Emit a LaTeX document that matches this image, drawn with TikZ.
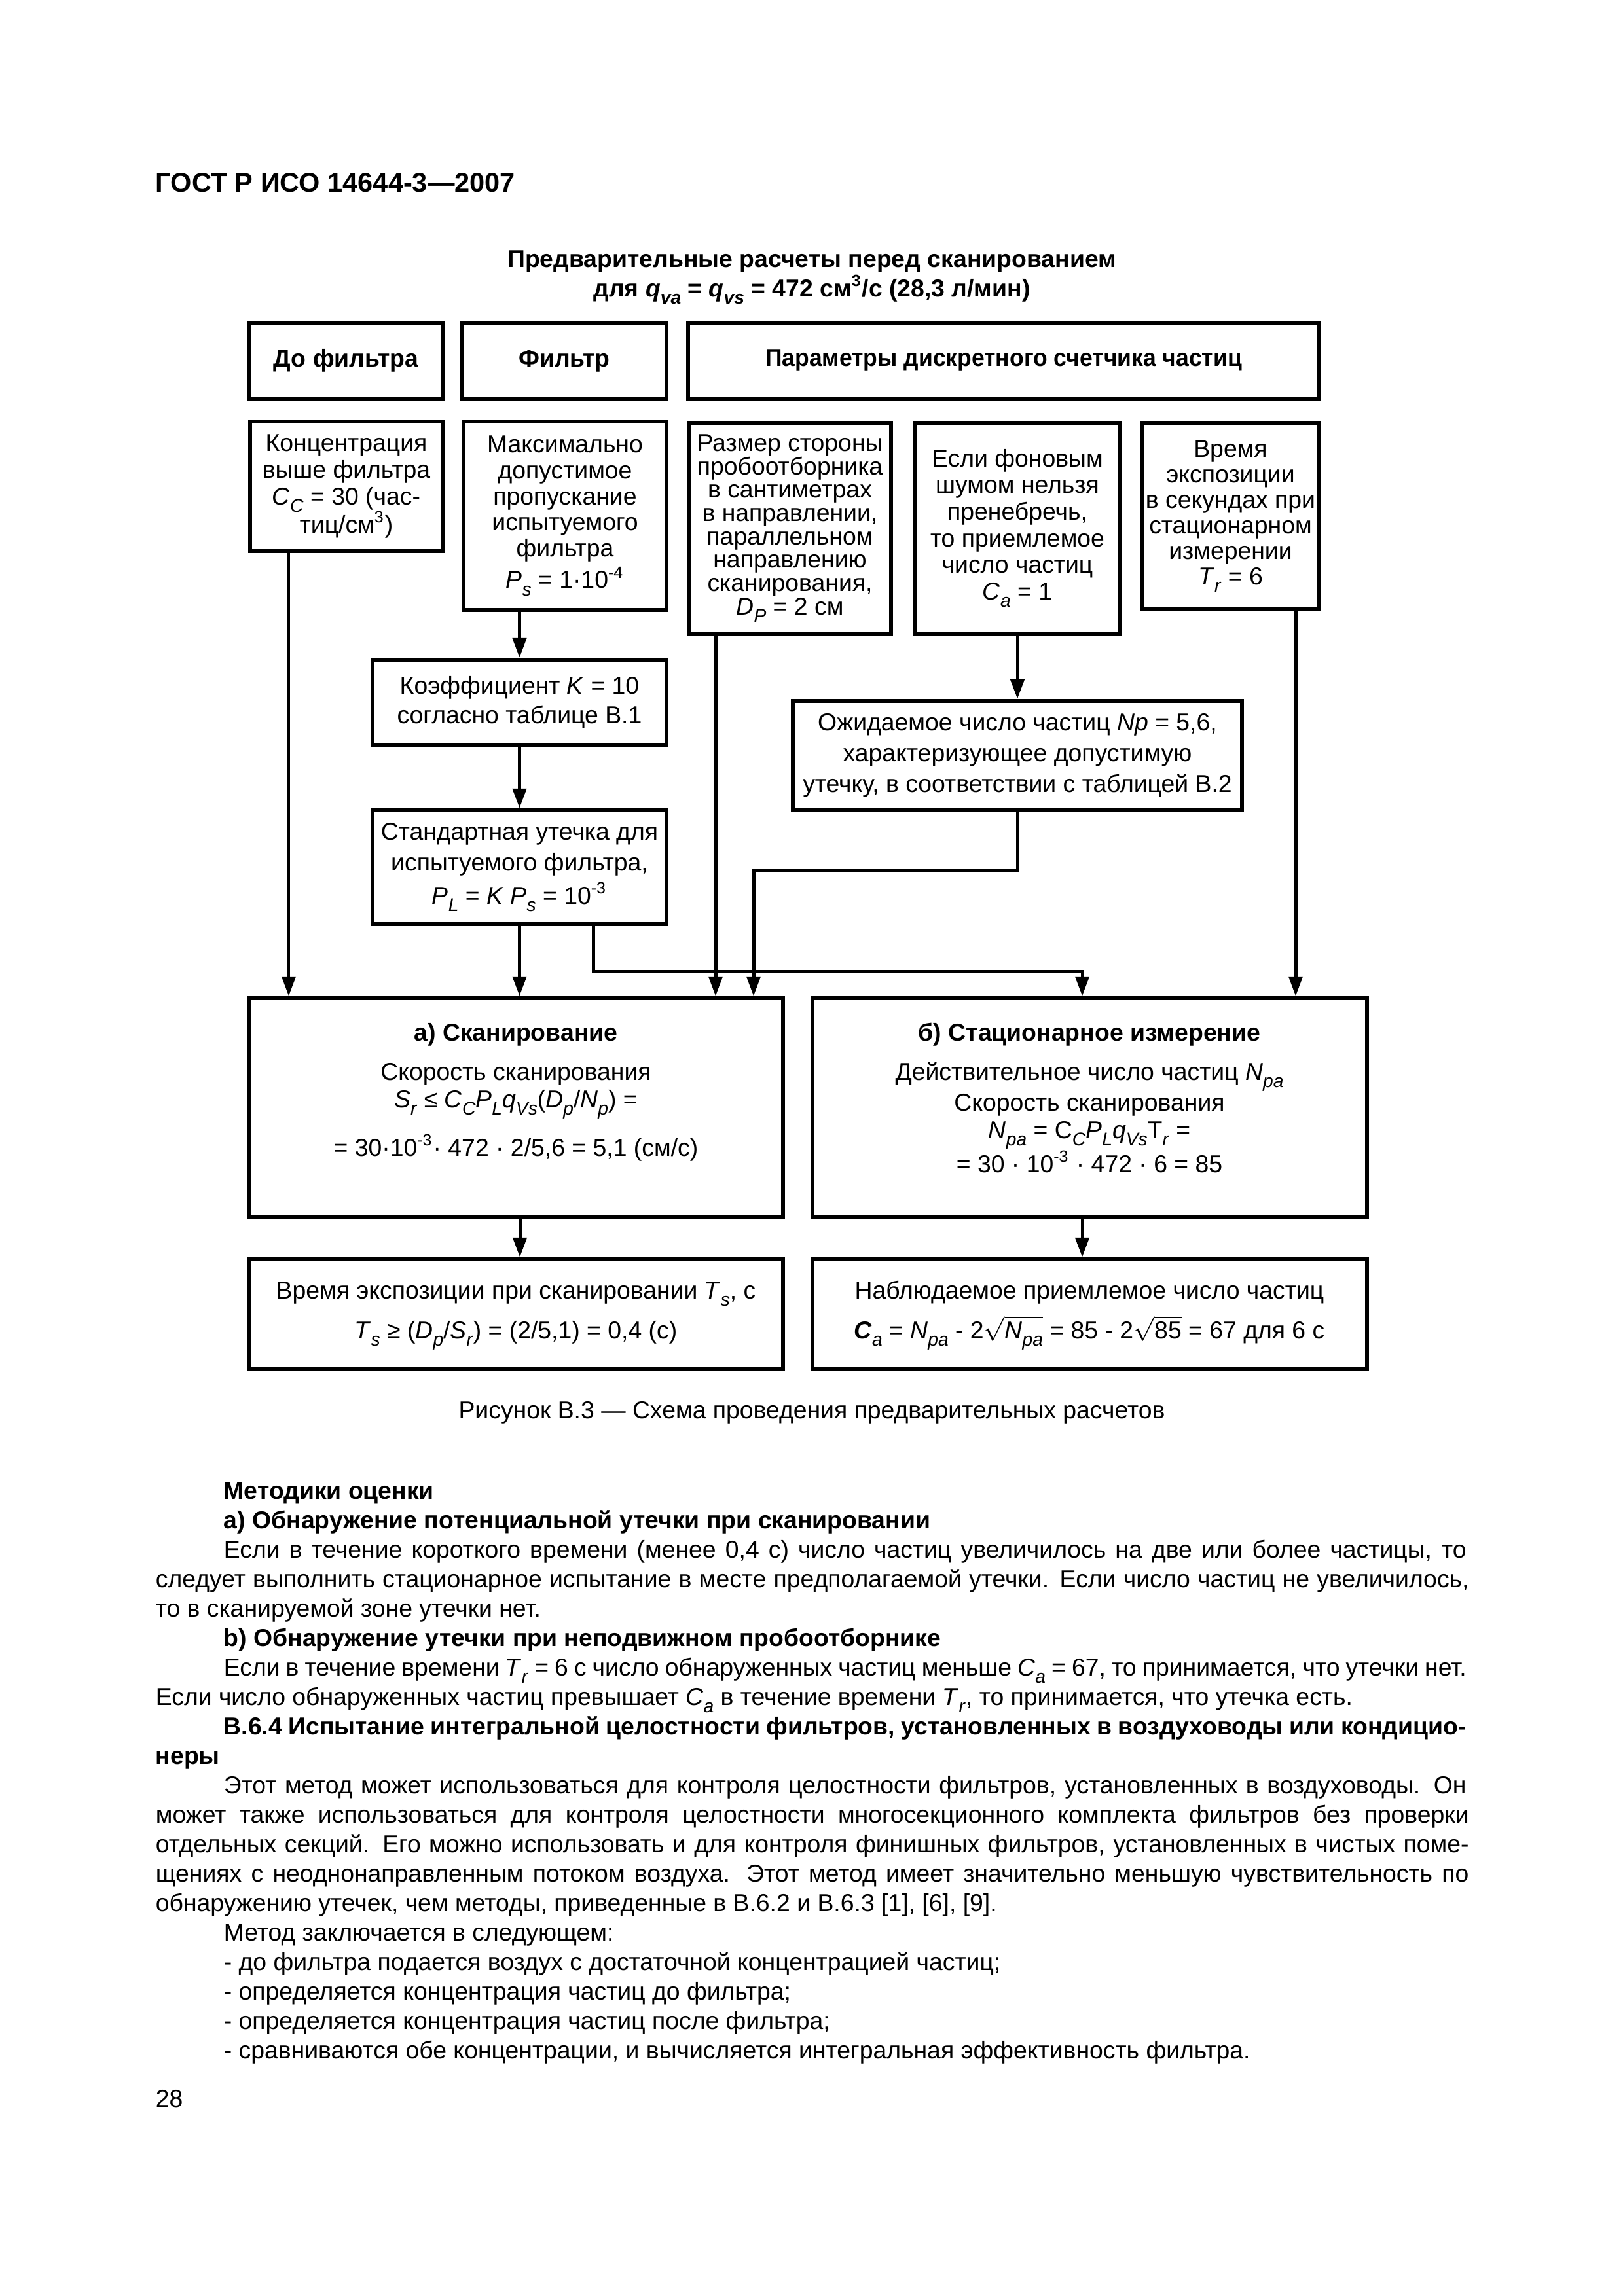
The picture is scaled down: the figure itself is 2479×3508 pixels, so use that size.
\documentclass[tikz,border=0pt]{standalone}
\usepackage{fontspec}
\setmainfont{Liberation Sans}
\usetikzlibrary{arrows.meta,calc}
\def\px{*0.2409pt}
\newcommand\lw[1]{\raisebox{-0.3em}{\fontsize{6.8}{7}\selectfont #1}}
\newcommand\vv[2]{\textit{#1}\lw{\textit{#2}}}
\newcommand\rt[1]{$\sqrt{\vphantom{\hbox{N}}\smash{\hbox{#1}}}$}
\newcommand\dfnt[1]{\fontsize{9}{#1}\selectfont\lineskiplimit=-30pt\lineskip=0pt}
\newcommand\jl[2]{\makebox[#1][s]{#2}}
\begin{document}
\begin{tikzpicture}[x=0.2409pt,y=-0.2409pt,
  box/.style={draw, line width=1.55pt, inner sep=0pt, align=center},
  wh/.style 2 args={minimum width=#1\px, minimum height=#2\px},
  conn/.style={line width=1.2pt},
  arr/.style={conn, -{Triangle[length=7.2pt,width=5pt]}},
  txt/.style={inner sep=0pt, anchor=base, font=\dfnt{10.8}},
  btxt/.style={inner sep=0pt, anchor=base west, font=\fontsize{9}{10.8}\selectfont}]
\fill[white] (0,0) rectangle (2479,3508);
\useasboundingbox (0,0) rectangle (2479,3508);

% header and title
\node[inner sep=0pt, anchor=base west, font=\fontsize{10}{12}\selectfont\bfseries] (hdr) at (237,293) {ГОСТ Р ИСО 14644-3—2007};
\node[txt, font=\fontsize{9}{10.8}\selectfont\bfseries] (ttl1) at (1240,408) {Предварительные расчеты перед сканированием};
\node[txt, font=\fontsize{9}{10.8}\selectfont\bfseries] (ttl2) at (1240,453) {для \vv{q}{va} = \vv{q}{vs} = 472 см\textsuperscript{3}/с (28,3 л/мин)};

% top row
\node[box, wh={295}{116}, font=\dfnt{10}\bfseries] (hA) at (528.5,551) {До фильтра};
\node[box, wh={312}{116}, font=\dfnt{10}\bfseries] (hB) at (862,551) {Фильтр};
\node[box, wh={964}{116}, font=\dfnt{10}\bfseries] (hC) at (1533,551) {\scalebox{0.95}[1]{Параметры дискретного счетчика частиц}};

% second row
\node[box, wh={294}{198}, font=\dfnt{9.9}] (conc) at (529,743) {Концентрация\\выше фильтра\\\vv{C}{C} = 30 (час-\\[0.5pt]тиц/см\textsuperscript{3})};
\node[box, wh={310}{288}, font=\dfnt{9.6}] (maxp) at (863,788) {Максимально\\допустимое\\пропускание\\испытуемого\\фильтра\\[2pt]\vv{P}{s} = 1·10\textsuperscript{-4}};
\node[box, wh={309}{322}, font=\dfnt{8.6}] (size) at (1206.5,807) {Размер стороны\\пробоотборника\\в сантиметрах\\в направлении,\\параллельном\\направлению\\сканирования,\\\vv{D}{P} = 2 см};
\node[box, wh={314}{322}, font=\dfnt{9.8}] (noise) at (1554,807) {Если фоновым\\шумом нельзя\\пренебречь,\\то приемлемое\\число частиц\\\vv{C}{a} = 1};
\node[box, wh={269}{285}, font=\dfnt{9.4}] (time) at (1879.5,788.5) {Время\\экспозиции\\в секундах при\\стационарном\\измерении\\\vv{T}{r} = 6};

% middle
\node[box, wh={449}{130}, font=\dfnt{10.8}] (coef) at (793.5,1073) {Коэффициент \textit{K} = 10\\согласно таблице В.1};
\node[box, wh={449}{174}, font=\dfnt{11.3}] (std) at (793.5,1325) {Стандартная утечка для\\испытуемого фильтра,\\[1pt]\vv{P}{L} = \textit{K} \vv{P}{s} = 10\textsuperscript{-3}};
\node[box, wh={686}{167}, font=\dfnt{11.3}] (exp) at (1554,1154.5) {Ожидаемое число частиц \textit{Np} = 5,6,\\характеризующее допустимую\\утечку, в соответствии с таблицей В.2};

% big boxes
\node[box, wh={816}{335}] (scanA) at (788,1692.5) {};
\node[box, wh={847}{335}] (stat) at (1664.5,1692.5) {};
\node[box, wh={816}{168}] (resA) at (788,2008) {};
\node[box, wh={847}{168}] (resB) at (1664.5,2008) {};

\node[txt, font=\dfnt{10}\bfseries] (a1) at (788,1590) {а) Сканирование};
\node[txt] (a2) at (788,1650) {Скорость сканирования};
\node[txt] (a3) at (788,1692) {\vv{S}{r} ≤ \vv{C}{C}\vv{P}{L}\vv{q}{Vs}(\vv{D}{p}/\vv{N}{p}) =};
\node[txt] (a4) at (788,1766) {= 30·10\textsuperscript{-3}· 472 · 2/5,6 = 5,1 (см/с)};

\node[txt, font=\dfnt{10}\bfseries] (b1) at (1664,1590) {б) Стационарное измерение};
\node[txt] (b2) at (1664,1650) {Действительное число частиц \vv{N}{pa}};
\node[txt] (b3) at (1664,1697) {Скорость сканирования};
\node[txt] (b4) at (1664,1739) {\vv{N}{pa} = C\lw{\textit{C}}\vv{P}{L}\vv{q}{Vs}T\lw{\textit{r}} =};
\node[txt] (b5) at (1664,1791) {= 30 · 10\textsuperscript{-3} · 472 · 6 = 85};

\node[txt] (ra1) at (788,1984) {Время экспозиции при сканировании \vv{T}{s}, с};
\node[txt] (ra2) at (788,2045) {\vv{T}{s} ≥ (\vv{D}{p}/\vv{S}{r}) = (2/5,1) = 0,4 (с)};
\node[txt] (rb1) at (1664,1984) {Наблюдаемое приемлемое число частиц};
\node[txt] (rb2) at (1664,2045) {\textbf{\textit{C}}\lw{\textit{a}} = \vv{N}{pa} - 2\rt{\vv{N}{pa}} = 85 - 2\rt{85} = 67 для 6 с};

% connectors
\draw[arr] ([xshift=-88\px]conc.south) coordinate (s1) -- (s1 |- scanA.north);
\draw[arr] (maxp.south -| coef.north) -- (coef.north);
\draw[arr] (coef.south) -- (std.north);
\draw[arr] (std.south) -- (std.south |- scanA.north);
\draw[arr] ([xshift=-113.5\px]size.south) coordinate (s5) -- (s5 |- scanA.north);
\draw[arr] (noise.south) -- (exp.north);
\draw[arr] (exp.south) -- ++(0,88) -| ([xshift=363\px]scanA.north);
\draw[arr] ([xshift=112.5\px]std.south) -- ++(0,69) -| ([xshift=-11.5\px]stat.north);
\draw[arr] ([xshift=99.5\px]time.south) coordinate (s9) -- (s9 |- stat.north);
\draw[arr] ([xshift=6\px]scanA.south) -- ([xshift=6\px]resA.north);
\draw[arr] ([xshift=-11.5\px]stat.south) -- ([xshift=-11.5\px]resB.north);

% caption
\node[txt, font=\fontsize{9}{10.8}\selectfont] (cap) at (1240,2167) {Рисунок В.3 — Схема проведения предварительных расчетов};

% body text
\node[btxt, font=\fontsize{9}{10.8}\selectfont\bfseries] (l1) at (341,2290) {Методики оценки};
\node[btxt, font=\fontsize{9}{10.8}\selectfont\bfseries] (l2) at (341,2335) {а) Обнаружение потенциальной утечки при сканировании};
\node[btxt] (l3) at (341,2380) {\jl{457.2pt}{Если в течение короткого времени (менее 0,4 с) число частиц увеличилось на две или более частицы, то}};
\node[btxt] (l4) at (237,2425) {\jl{483.2pt}{следует выполнить стационарное испытание в месте предполагаемой утечки. Если число частиц не увеличилось,}};
\node[btxt] (l5) at (237,2470) {то в сканируемой зоне утечки нет.};
\node[btxt, font=\fontsize{9}{10.8}\selectfont\bfseries] (l6) at (341,2515) {b) Обнаружение утечки при неподвижном пробоотборнике};
\node[btxt] (l7) at (341,2560) {\jl{457.2pt}{Если в течение времени \vv{T}{r} = 6 с число обнаруженных частиц меньше \vv{C}{a} = 67, то принимается, что утечки нет.}};
\node[btxt] (l8) at (237,2605) {Если число обнаруженных частиц превышает \vv{C}{a} в течение времени \vv{T}{r}, то принимается, что утечка есть.};
\node[btxt, font=\fontsize{9}{10.8}\selectfont\bfseries] (l9) at (341,2650) {\jl{457.2pt}{В.6.4 Испытание интегральной целостности фильтров, установленных в воздуховоды или кондицио-}};
\node[btxt, font=\fontsize{9}{10.8}\selectfont\bfseries] (l10) at (237,2695) {неры};
\node[btxt] (l11) at (341,2740) {\jl{457.2pt}{Этот метод может использоваться для контроля целостности фильтров, установленных в воздуховоды. Он}};
\node[btxt] (l12) at (237,2785) {\jl{483.2pt}{может также использоваться для контроля целостности многосекционного комплекта фильтров без проверки}};
\node[btxt] (l13) at (237,2830) {\jl{483.2pt}{отдельных секций. Его можно использовать и для контроля финишных фильтров, установленных в чистых поме-}};
\node[btxt] (l14) at (237,2875) {\jl{483.2pt}{щениях с неоднонаправленным потоком воздуха. Этот метод имеет значительно меньшую чувствительность по}};
\node[btxt] (l15) at (237,2920) {обнаружению утечек, чем методы, приведенные в В.6.2 и В.6.3 [1], [6], [9].};
\node[btxt] (l16) at (341,2965) {Метод заключается в следующем:};
\node[btxt] (l17) at (341,3010) {- до фильтра подается воздух с достаточной концентрацией частиц;};
\node[btxt] (l18) at (341,3055) {- определяется концентрация частиц до фильтра;};
\node[btxt] (l19) at (341,3100) {- определяется концентрация частиц после фильтра;};
\node[btxt] (l20) at (341,3145) {- сравниваются обе концентрации, и вычисляется интегральная эффективность фильтра.};
\node[btxt] (pg) at (237,3219) {28};
\end{tikzpicture}
\end{document}
